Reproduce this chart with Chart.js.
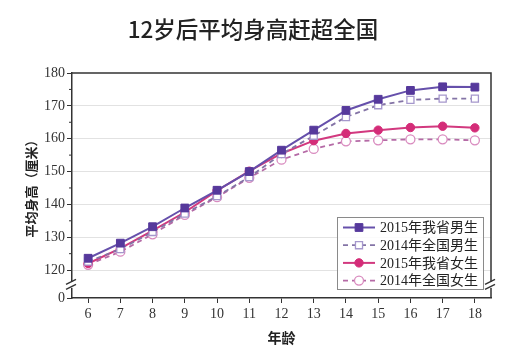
<!DOCTYPE html>
<html>
<head>
<meta charset="utf-8">
<script src="https://cdn.jsdelivr.net/npm/chart.js@4.4.1/dist/chart.umd.min.js"></script>
<style>
  html, body { margin: 0; padding: 0; background: #fff; }
  #chart { display: block; }
</style>
</head>
<body>
<canvas id="chart" width="527" height="348"></canvas>
<script>
// ages on the x axis
var ages = ['6', '7', '8', '9', '10', '11', '12', '13', '14', '15', '16', '17', '18'];

// average height (cm)
var boys2015 = [123.6, 128.2, 133.2, 138.9, 144.3, 150.0, 156.5, 162.6, 168.6, 172.0, 174.7, 175.8, 175.7];
var boysNat2014 = [122.6, 126.4, 131.6, 137.2, 142.5, 148.3, 155.3, 160.9, 166.6, 170.2, 171.8, 172.2, 172.2];
var girls2015 = [122.0, 126.6, 132.0, 137.6, 144.2, 150.1, 155.5, 159.4, 161.6, 162.6, 163.4, 163.8, 163.3];
var girlsNat2014 = [121.6, 125.6, 130.9, 136.8, 142.2, 148.1, 153.6, 156.9, 159.2, 159.5, 159.8, 159.8, 159.5];

var seriesNames = ['2015年我省男生', '2014年全国男生', '2015年我省女生', '2014年全国女生'];

// y axis is broken: "0" sits at the bottom, then 120..180
var axisFloor = 111.5;
var yTickValues = [axisFloor, 120, 130, 140, 150, 160, 170, 180];
var yTickLabels = ['0', '120', '130', '140', '150', '160', '170', '180'];
var yMinorTicks = [125, 135, 145, 155, 165, 175];

var serif = '"Liberation Serif", "Noto Sans CJK SC", serif';

function seg(ctx, x1, y1, x2, y2) {
  ctx.beginPath();
  ctx.moveTo(x1, y1);
  ctx.lineTo(x2, y2);
  ctx.stroke();
}

function breakMark(ctx, x, y) {
  ctx.fillStyle = '#fff';
  ctx.fillRect(x - 3, y - 3, 6, 6);
  ctx.strokeStyle = '#333';
  ctx.lineWidth = 1.3;
  seg(ctx, x - 6, y - 0.5, x + 4, y - 5.5);
  seg(ctx, x - 6, y + 4.5, x + 4, y - 0.5);
}

var decor = {
  id: 'decor',
  afterDraw: function (chart) {
    var ctx = chart.ctx, a = chart.chartArea, y = chart.scales.y;
    ctx.save();
    // top and right frame
    ctx.strokeStyle = '#333';
    ctx.lineWidth = 1.5;
    ctx.beginPath();
    ctx.moveTo(a.left, a.top);
    ctx.lineTo(a.right, a.top);
    ctx.lineTo(a.right, a.bottom);
    ctx.stroke();
    // minor ticks on the y axis
    ctx.lineWidth = 1;
    yMinorTicks.forEach(function (v) {
      var py = y.getPixelForValue(v);
      seg(ctx, a.left - 3, py, a.left, py);
    });
    // axis breaks
    var by = y.getPixelForValue(115.5);
    breakMark(ctx, a.left, by);
    breakMark(ctx, a.right, by);

    // legend box
    var bx = 337, bt = 217, bw = 146, bh = 72;
    ctx.fillStyle = 'rgba(255,255,255,0.85)';
    ctx.fillRect(bx, bt, bw, bh);
    ctx.strokeStyle = '#8a8a8a';
    ctx.lineWidth = 1;
    ctx.strokeRect(bx + 0.5, bt + 0.5, bw, bh);
    chart.data.datasets.forEach(function (ds, i) {
      var ry = bt + 10.5 + i * 17.7;
      ctx.strokeStyle = ds.borderColor;
      ctx.lineWidth = ds.borderWidth;
      ctx.setLineDash(ds.borderDash || []);
      seg(ctx, bx + 6, ry, bx + 38, ry);
      ctx.setLineDash([]);
      ctx.fillStyle = ds.pointBackgroundColor;
      ctx.strokeStyle = ds.pointBorderColor;
      ctx.lineWidth = ds.pointBorderWidth;
      ctx.beginPath();
      if (ds.pointStyle === 'rect') {
        var s = ds.pointRadius * Math.SQRT1_2;
        ctx.rect(bx + 22 - s, ry - s, 2 * s, 2 * s);
      } else {
        ctx.arc(bx + 22, ry, ds.pointRadius, 0, Math.PI * 2);
      }
      ctx.fill();
      ctx.stroke();
      ctx.fillStyle = '#222';
      ctx.font = '14px ' + serif;
      ctx.textBaseline = 'middle';
      ctx.textAlign = 'left';
      ctx.fillText(ds.label, bx + 43, ry + 1);
    });
    ctx.restore();
  }
};

new Chart(document.getElementById('chart'), {
  type: 'line',
  data: {
    labels: ages,
    datasets: [
      {
        label: seriesNames[0],
        data: boys2015,
        borderColor: '#6650ab',
        borderWidth: 2,
        pointStyle: 'rect',
        pointRadius: 5.5,
        pointBackgroundColor: '#56399c',
        pointBorderColor: '#56399c',
        pointBorderWidth: 1
      },
      {
        label: seriesNames[1],
        data: boysNat2014,
        borderColor: '#8474a6',
        borderWidth: 1.8,
        borderDash: [5, 4],
        pointStyle: 'rect',
        pointRadius: 5,
        pointBackgroundColor: '#fff',
        pointBorderColor: '#a597cc',
        pointBorderWidth: 1.3
      },
      {
        label: seriesNames[2],
        data: girls2015,
        borderColor: '#d2397f',
        borderWidth: 2,
        pointStyle: 'circle',
        pointRadius: 4.2,
        pointBackgroundColor: '#d42c78',
        pointBorderColor: '#d42c78',
        pointBorderWidth: 1
      },
      {
        label: seriesNames[3],
        data: girlsNat2014,
        borderColor: '#b56aa6',
        borderWidth: 1.8,
        borderDash: [5, 4],
        pointStyle: 'circle',
        pointRadius: 4.5,
        pointBackgroundColor: '#fff',
        pointBorderColor: '#d98bbf',
        pointBorderWidth: 1.3
      }
    ]
  },
  options: {
    responsive: false,
    animation: false,
    devicePixelRatio: 1,
    layout: { padding: { left: 15, right: 36, top: 0, bottom: 0 } },
    plugins: {
      legend: { display: false },
      tooltip: { enabled: false },
      title: {
        display: true,
        text: '12岁后平均身高赶超全国',
        color: '#222',
        font: { family: '"Noto Sans CJK SC", sans-serif', size: 22.5, weight: '500' },
        padding: { top: 16, bottom: 30 }
      }
    },
    scales: {
      x: {
        type: 'category',
        offset: true,
        border: { color: '#333', width: 1.5 },
        grid: { drawOnChartArea: false, drawTicks: true, tickLength: 5, color: '#333' },
        ticks: { color: '#333', padding: 3, font: { family: serif, size: 14 } },
        title: {
          display: true,
          text: '年龄',
          color: '#222',
          font: { family: serif, size: 14, weight: 'bold' },
          padding: { top: 4, bottom: 0 }
        },
        afterFit: function (scale) { scale.height = 50; }
      },
      y: {
        min: axisFloor,
        max: 180,
        border: { color: '#333', width: 1.5 },
        afterBuildTicks: function (scale) {
          scale.ticks = yTickValues.map(function (v) { return { value: v }; });
        },
        grid: {
          color: function (c) {
            return c.tick && c.tick.value >= 120 && c.tick.value < 180 ? '#e2e2e2' : 'rgba(0,0,0,0)';
          },
          tickColor: '#333',
          tickLength: 5,
          lineWidth: 1
        },
        ticks: {
          autoSkip: false,
          color: '#333',
          padding: 2,
          font: { family: serif, size: 14 },
          callback: function (v, i) { return yTickLabels[i]; }
        },
        title: {
          display: true,
          text: '平均身高（厘米）',
          color: '#222',
          font: { family: serif, size: 13, weight: 'bold' },
          padding: { top: 10, bottom: 0 }
        },
        afterFit: function (scale) { scale.width = 57; }
      }
    }
  },
  plugins: [decor]
});
</script>
</body>
</html>
